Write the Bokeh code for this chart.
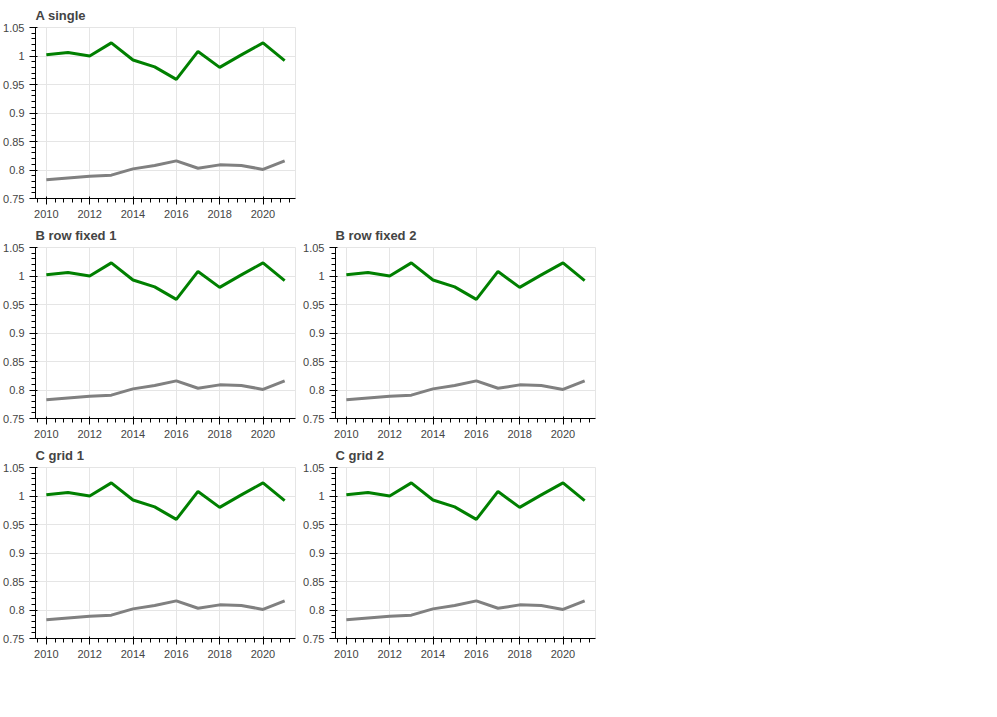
import math
from bokeh.plotting import figure
from bokeh.layouts import column, row, gridplot
from bokeh.models import Range1d, FixedTicker
from bokeh.embed import file_html
from bokeh.resources import INLINE

years = [2010, 2011, 2012, 2013, 2014, 2015, 2016, 2017, 2018, 2019, 2020, 2021]
total_no_jovenes = [0.783, 0.786, 0.789, 0.791, 0.802, 0.808, 0.816, 0.803, 0.809, 0.808, 0.801, 0.816]
total_jovenes = [1.002, 1.006, 1.000, 1.023, 0.993, 0.981, 0.959, 1.008, 0.980, 1.002, 1.023, 0.992]


def mk(title):
    p = figure(width=300, height=220, output_backend="svg", toolbar_location=None,
               x_range=Range1d(2009.5, 2021.5), y_range=Range1d(0.75, 1.05), title=title)
    p.line(years, total_no_jovenes, line_color="gray", line_width=3)
    p.line(years, total_jovenes, line_color="green", line_width=3)
    return p


a = mk("A single")
b1 = mk("B row fixed 1")
b2 = mk("B row fixed 2")
rb = row(b1, b2, width=600, height=220, sizing_mode="fixed")
c1 = mk("C grid 1")
c2 = mk("C grid 2")
gc = gridplot([[c1, c2]], toolbar_location=None)

open("out.html", "w").write(file_html([a, rb, gc], INLINE))
